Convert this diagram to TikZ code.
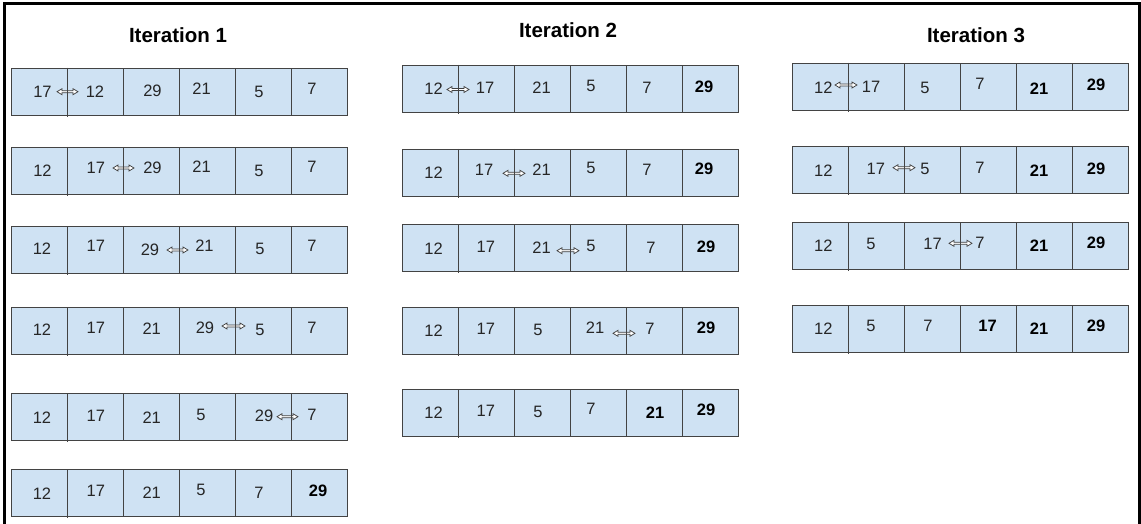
\documentclass[tikz,border=0pt]{standalone}
\usepackage{fontspec}
\setmainfont{Liberation Sans}
\definecolor{cellfill}{HTML}{CFE2F3}
\definecolor{cellline}{HTML}{434343}
\tikzset{
  cellbox/.style={rectangle, draw=cellline, fill=cellfill, line width=0.9pt,
    minimum width=56pt, minimum height=47pt, inner sep=0pt, outer sep=0pt},
  numlab/.style={anchor=base, inner sep=0pt, text=black!85,
    font=\fontsize{16.5}{19}\selectfont},
  boldlab/.style={numlab, font=\fontsize{16.5}{19}\selectfont\bfseries, text=black},
  titlelab/.style={anchor=base, inner sep=0pt, font=\fontsize{20.5}{24}\selectfont\bfseries},
  swaparrow/.style={draw=black!75, fill=white, line width=0.75pt, line join=miter},
  borderline/.style={draw=cellline, line width=0.9pt},
  framestyle/.style={draw=black, line width=3pt},
}
\newcounter{labc}
% row of six cells: name, left x, top y
\newcommand\cellrow[3]{%
  \foreach \k in {1,...,6}{%
    \node[cellbox] (#1-\k) at ({#2+56*\k-28},{#3+23.5}) {};
  }%
  \draw[borderline] (#1-2.north west) -- ([yshift=-2pt]#1-2.south west);
}
% number label with digit centre at (x,y)
\newcommand\numat[3]{\stepcounter{labc}\node[numlab] (lab\thelabc) at ({#1},{#2+5.9}) {#3};}
\newcommand\boldat[3]{\stepcounter{labc}\node[boldlab] (lab\thelabc) at ({#1},{#2+5.9}) {#3};}
% swap arrow: name, x1, x2, y, cell whose west border crosses it
\newcommand\swap[5]{%
  \coordinate (#1a) at (#2,#4); \coordinate (#1b) at (#3,#4);
  \draw[swaparrow] (#1a) -- ({#2+5},{#4-3}) -- ({#2+5},{#4-1}) -- ({#3-5},{#4-1})
     -- ({#3-5},{#4-3}) -- (#1b) -- ({#3-5},{#4+3}) -- ({#3-5},{#4+1})
     -- ({#2+5},{#4+1}) -- ({#2+5},{#4+3}) -- cycle;
  \draw[borderline] (#5.north west) -- (#5.south west);}
\begin{document}
\begin{tikzpicture}[x=1pt,y=-1pt]
\useasboundingbox (0,0) rectangle (1141,524);
\fill[white] (0,0) rectangle (1141,524);
\coordinate (fbl) at (4.5,526);
\coordinate (ftl) at (4.5,3.5);
\coordinate (ftr) at (1139.5,3.5);
\coordinate (fbr) at (1139.5,526);
\draw[framestyle] (fbl) -- (ftl) -- (ftr) -- (fbr);

% titles
\node[titlelab] (t1) at (178,42.3) {Iteration 1};
\node[titlelab] (t2) at (568,37.3) {Iteration 2};
\node[titlelab] (t3) at (976,42.3) {Iteration 3};

% ---------------- Iteration 1 ----------------
\cellrow{a1}{11}{68}
\numat{42.5}{92}{17}\swap{s11}{57}{78}{91.7}{a1-2}\numat{95}{92}{12}
\numat{152.5}{91}{29}\numat{201.6}{89}{21}\numat{259}{91.3}{5}\numat{312}{89}{7}

\cellrow{a2}{11}{147}
\numat{42.5}{171}{12}\numat{95.8}{167.5}{17}\swap{s12}{113}{134}{168}{a2-3}
\numat{152.5}{167.5}{29}\numat{201.6}{167}{21}\numat{259}{171}{5}\numat{312}{167}{7}

\cellrow{a3}{11}{226}
\numat{42}{249}{12}\numat{95.8}{246}{17}\numat{150}{250}{29}\swap{s13}{167}{188}{250}{a3-4}
\numat{204.5}{246}{21}\numat{260}{249}{5}\numat{312}{246}{7}

\cellrow{a4}{11}{307}
\numat{42}{330}{12}\numat{95.8}{327.5}{17}\numat{151.7}{329}{21}
\numat{205}{327.5}{29}\swap{s14}{222}{245}{326}{a4-5}\numat{260}{330}{5}\numat{312}{327.5}{7}

\cellrow{a5}{11}{393}
\numat{42}{417.5}{12}\numat{95.8}{416}{17}\numat{151.7}{417.5}{21}\numat{201}{415}{5}
\numat{264}{416}{29}\swap{s15}{277}{298}{416.7}{a5-6}\numat{312}{415}{7}

\cellrow{a6}{11}{469}
\numat{42}{494}{12}\numat{95.8}{491}{17}\numat{151.7}{492.5}{21}\numat{201}{490}{5}
\numat{259}{492.5}{7}\boldat{318}{491}{29}

% ---------------- Iteration 2 ----------------
\cellrow{b1}{402}{65}
\numat{433.5}{88.3}{12}\swap{s21}{447}{469}{89.5}{b1-2}\numat{485}{87.5}{17}
\numat{541.5}{87.8}{21}\numat{591}{86}{5}\numat{647}{87.8}{7}\boldat{704}{86.7}{29}

\cellrow{b2}{402}{149}
\numat{433.5}{172.5}{12}\numat{484}{170}{17}\swap{s22}{503}{525}{173.3}{b2-3}
\numat{541.5}{170}{21}\numat{591}{167.5}{5}\numat{647}{170}{7}\boldat{704}{168.3}{29}

\cellrow{b3}{402}{224}
\numat{433.5}{248.3}{12}\numat{485.8}{246.7}{17}\numat{541.5}{247.5}{21}
\swap{s23}{557}{579}{250.7}{b3-4}\numat{591}{245.8}{5}\numat{651}{247.5}{7}\boldat{706}{246.7}{29}

\cellrow{b4}{402}{307}
\numat{433.5}{331}{12}\numat{485.8}{329}{17}\numat{538}{330}{5}
\numat{595}{327.5}{21}\swap{s24}{613}{635}{333.3}{b4-5}\numat{650}{329}{7}\boldat{706}{327.5}{29}

\cellrow{b5}{402}{389}
\numat{433.5}{412.5}{12}\numat{485.8}{411}{17}\numat{538}{411.7}{5}
\numat{591}{409}{7}\boldat{655}{412.5}{21}\boldat{706}{410}{29}

% ---------------- Iteration 3 ----------------
\cellrow{c1}{792}{63}
\numat{823.3}{87.5}{12}\swap{s31}{835}{857}{85}{c1-2}\numat{871}{86.7}{17}
\numat{925}{87.5}{5}\numat{980}{84}{7}\boldat{1039}{88.3}{21}\boldat{1096}{85}{29}

\cellrow{c2}{792}{146}
\numat{823.3}{171}{12}\numat{875.8}{169}{17}\swap{s32}{893}{915}{167.7}{c2-3}
\numat{925}{169}{5}\numat{980}{167.5}{7}\boldat{1039}{171}{21}\boldat{1096}{168.3}{29}

\cellrow{c3}{792}{222}
\numat{823.3}{246}{12}\numat{871}{244}{5}\numat{932.5}{244}{17}
\swap{s33}{949}{972}{243.3}{c3-4}\numat{980}{242.5}{7}\boldat{1039}{246}{21}\boldat{1096}{242.5}{29}

\cellrow{c4}{792}{305}
\numat{823.3}{329}{12}\numat{871}{325.8}{5}\numat{928}{325.8}{7}
\boldat{987.5}{325.8}{17}\boldat{1039}{328.3}{21}\boldat{1096}{325.8}{29}
\end{tikzpicture}
\end{document}
